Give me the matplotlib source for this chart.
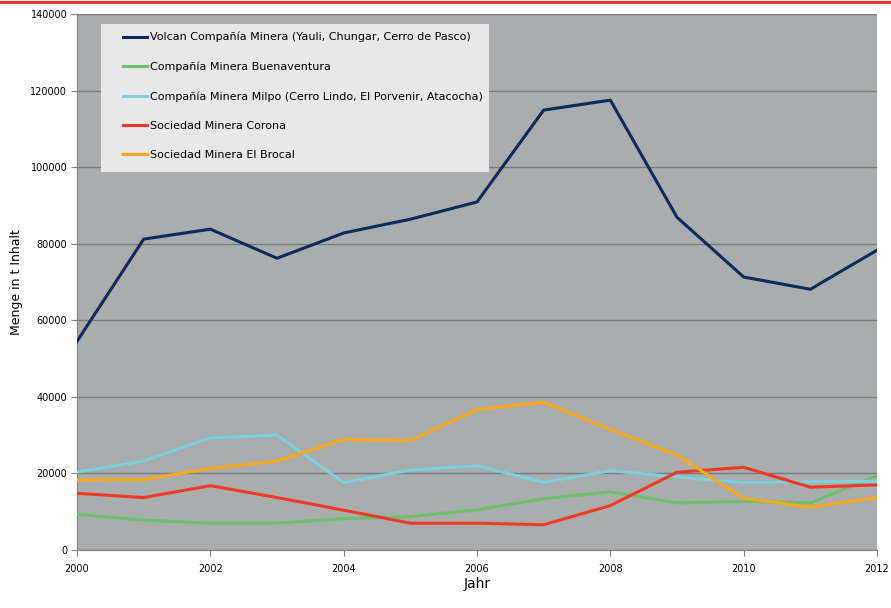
import matplotlib
matplotlib.use("Agg")
import matplotlib.pyplot as plt
from matplotlib.lines import Line2D
from matplotlib.patches import Rectangle

years = list(range(2000, 2013))

volcan = [54500, 81200, 83800, 76200, 82800, 86400, 90900,
          114900, 117500, 86900, 71300, 68100, 78300]
buenaventura = [9300, 7800, 7000, 7000, 8200, 8700, 10500,
                13400, 15200, 12300, 12700, 12300, 19400]
milpo = [20400, 23200, 29300, 30000, 17600, 20900, 22000,
         17700, 20700, 19100, 17600, 17800, 18000]
corona = [14800, 13700, 16800, 13700, 10400, 7000, 7000,
          6600, 11600, 20300, 21600, 16400, 17000]
brocal = [18300, 18400, 21300, 23200, 28900, 28600, 36700,
          38600, 31500, 24800, 13500, 11200, 13700]

labels = [
    "Volcan Compañía Minera (Yauli, Chungar, Cerro de Pasco)",
    "Compañía Minera Buenaventura",
    "Compañía Minera Milpo (Cerro Lindo, El Porvenir, Atacocha)",
    "Sociedad Minera Corona",
    "Sociedad Minera El Brocal",
]
colors = ["#0d2a5a", "#6cbf6c", "#7fd0dc", "#ee3a24", "#f7a81b"]
series = [volcan, buenaventura, milpo, corona, brocal]

plt.rcParams["font.family"] = ["DejaVu Sans"]

W, H = 891, 608
fig = plt.figure(figsize=(W / 100, H / 100), dpi=100)
fig.patch.set_facecolor("white")

# red rule across the top
fig.add_artist(Line2D([0, 1], [1 - 1.5 / H, 1 - 1.5 / H],
                      color="#e8322f", lw=2.2, transform=fig.transFigure))

AX_L, AX_T, AX_W, AX_H = 77, 14, 800, 536
ax = fig.add_axes([AX_L / W, 1 - (AX_T + AX_H) / H, AX_W / W, AX_H / H])
ax.set_facecolor("#a9adad")

for vals, col, lab in zip(series, colors, labels):
    ax.plot(years, vals, color=col, lw=2.2, label=lab, zorder=3)

ax.set_xlim(2000, 2012)
ax.set_ylim(0, 140000)
ax.set_xticks(range(2000, 2013, 2))
ax.set_yticks(range(0, 140001, 20000))
ax.tick_params(labelsize=7, length=4, color="#808080", pad=3)
ax.tick_params(axis="x", pad=6)
ax.grid(axis="y", color="#7a7a7a", lw=1)
ax.set_axisbelow(True)
for s in ["top", "right"]:
    ax.spines[s].set_visible(False)
for s in ["left", "bottom"]:
    ax.spines[s].set_color("#808080")

ax.set_xlabel("Jahr", fontsize=10, labelpad=2)
ax.set_ylabel("Menge in t Inhalt", fontsize=9, labelpad=5)

# legend box (light panel)
bx0, bx1, by0, by1 = 101, 489, 24, 172
ax.add_patch(Rectangle(((bx0 - AX_L) / AX_W, 1 - (by1 - AX_T) / AX_H),
                       (bx1 - bx0) / AX_W, (by1 - by0) / AX_H,
                       transform=ax.transAxes, facecolor="#e8e8e8",
                       edgecolor="none", zorder=4))

leg = ax.legend(loc="upper left",
                bbox_to_anchor=((123 - AX_L) / AX_W, 1 - (32 - AX_T) / AX_H),
                frameon=False, fontsize=8,
                handlelength=2.2, handletextpad=0.2, labelspacing=1.72,
                borderpad=0, borderaxespad=0)
leg.set_zorder(5)

fig.savefig("out.png", dpi=100)
